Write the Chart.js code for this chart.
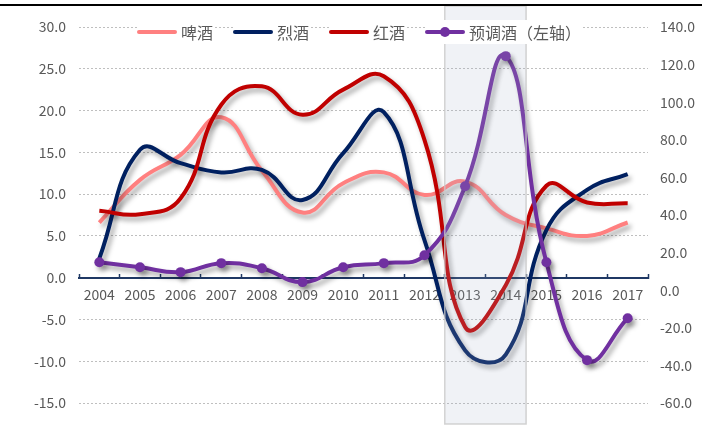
<!DOCTYPE html>
<html>
<head>
<meta charset="utf-8">
<script src="https://cdn.jsdelivr.net/npm/chart.js@4/dist/chart.umd.min.js"></script>
<style>
    body { margin: 0; background: #fff; }
    #wrap { position: relative; width: 702px; height: 434px; }
    #topline { position: absolute; left: 0; top: 4px; width: 702px; height: 2px; background: #000; }
    #legend { position: absolute; left: 137px; top: 20px; display: flex; align-items: center;
              font-family: "Noto Sans CJK SC", sans-serif; font-size: 16px; color: #595959; }
    .item { display: flex; align-items: center; margin-right: 20px; background: #fff; }
    .swatch { position: relative; width: 40px; height: 4px; border-radius: 2px; margin-right: 4px; }
    .dot { position: absolute; left: 15px; top: -3px; width: 10px; height: 10px; border-radius: 50%; }
</style>
</head>
<body>
<div id="wrap">
    <canvas id="chart"></canvas>
    <div id="topline"></div>
    <div id="legend"></div>
</div>
<script>
// categories
const years = ['2004', '2005', '2006', '2007', '2008', '2009', '2010', '2011', '2012', '2013', '2014', '2015', '2016', '2017'];

// series values (%), 预调酒 read against the right-hand scale
const beer    = [6.6, 11.7, 14.7, 19.2, 12.8, 7.8, 11.3, 12.6, 9.9, 11.5, 7.5, 5.9, 5.0, 6.6];
const spirits = [2.3, 15.3, 13.7, 12.6, 12.9, 9.3, 14.9, 19.8, 4.5, -8.7, -9.2, 5.7, 10.5, 12.4];
const wine    = [8.0, 7.6, 9.5, 20.7, 22.9, 19.5, 22.5, 24.1, 16.5, -5.9, -0.9, 11.0, 9.0, 8.9];
const rtd     = [14.9, 12.2, 9.6, 14.4, 11.7, 4.3, 12.2, 14.4, 18.6, 55.3, 124.5, 14.9, -37.2, -14.9];

const seriesNames = ['啤酒', '烈酒', '红酒', '预调酒（左轴）'];
const seriesColors = ['#FF8080', '#002060', '#C00000', '#7030A0'];

// highlighted years
const highlightFrom = '2013';
const highlightTo = '2014';

const FONT = '"Noto Sans CJK SC", sans-serif';
const GREY = '#595959';

// legend (html)
const legend = document.getElementById('legend');
seriesNames.forEach((name, i) => {
    const item = document.createElement('div');
    item.className = 'item';
    const sw = document.createElement('span');
    sw.className = 'swatch';
    sw.style.background = seriesColors[i];
    if (i === 3) {
        const dot = document.createElement('span');
        dot.className = 'dot';
        dot.style.background = seriesColors[i];
        sw.appendChild(dot);
    }
    const lab = document.createElement('span');
    lab.textContent = name;
    item.appendChild(sw);
    item.appendChild(lab);
    legend.appendChild(item);
});

// drop shadow under the lines
const shadowPlugin = {
    id: 'shadow',
    beforeDatasetDraw(chart) {
        const ctx = chart.ctx;
        ctx.save();
        ctx.shadowColor = 'rgba(0,0,0,0.35)';
        ctx.shadowBlur = 5;
        ctx.shadowOffsetX = 3;
        ctx.shadowOffsetY = 4;
    },
    afterDatasetDraw(chart) {
        chart.ctx.restore();
    }
};

// translucent box over 2013-2014
const highlightPlugin = {
    id: 'highlight',
    afterDatasetsDraw(chart) {
        const x = chart.scales.x;
        const a = years.indexOf(highlightFrom);
        const b = years.indexOf(highlightTo);
        const half = (x.getPixelForValue(1) - x.getPixelForValue(0)) / 2;
        const left = x.getPixelForValue(a) - half;
        const right = x.getPixelForValue(b) + half;
        const ctx = chart.ctx;
        ctx.save();
        ctx.fillStyle = 'rgba(165,175,200,0.17)';
        ctx.fillRect(left, 6, right - left, 418);
        ctx.strokeStyle = 'rgba(200,200,200,0.8)';
        ctx.lineWidth = 1.5;
        ctx.strokeRect(left, 6, right - left, 418);
        ctx.restore();
    }
};

function lineSet(i, data, axis, order) {
    return {
        label: seriesNames[i],
        data: data,
        yAxisID: axis,
        borderColor: seriesColors[i],
        backgroundColor: seriesColors[i],
        borderWidth: 4,
        tension: 0.45,
        pointRadius: i === 3 ? 5 : 0,
        pointBorderWidth: 0,
        fill: false,
        order: order
    };
}

new Chart(document.getElementById('chart'), {
    type: 'line',
    data: {
        labels: years,
        datasets: [
            lineSet(0, beer, 'y', 3),
            lineSet(1, spirits, 'y', 2),
            lineSet(2, wine, 'y', 1),
            lineSet(3, rtd, 'y2', 0)
        ]
    },
    options: {
        responsive: true,
        maintainAspectRatio: false,
        animation: false,
        layout: { padding: { left: 0, right: 0, top: 27, bottom: 31 } },
        plugins: {
            legend: { display: false },
            tooltip: { enabled: false }
        },
        scales: {
            x: {
                type: 'category',
                position: { y: 0 },
                offset: true,
                grid: {
                    display: true,
                    drawOnChartArea: false,
                    drawTicks: true,
                    tickLength: -5,
                    tickWidth: 1.5,
                    tickColor: '#1F3864',
                    offset: true
                },
                border: { display: true, color: '#1F3864', width: 2 },
                ticks: {
                    color: GREY,
                    font: { family: FONT, size: 14 },
                    padding: 14,
                    autoSkip: false,
                    maxRotation: 0
                }
            },
            y: {
                position: 'left',
                min: -15,
                max: 30,
                afterFit: s => { s.width = 79; },
                grid: { color: '#BFBFBF', lineWidth: 1, drawTicks: false },
                border: { display: false, dash: [2, 2] },
                ticks: {
                    stepSize: 5,
                    padding: 13,
                    color: GREY,
                    font: { family: FONT, size: 14 },
                    callback: v => v.toFixed(1)
                }
            },
            y2: {
                position: 'right',
                min: -60,
                max: 140,
                afterFit: s => { s.width = 54; },
                grid: { display: false, drawTicks: false },
                border: { display: false },
                ticks: {
                    stepSize: 20,
                    padding: 12,
                    color: GREY,
                    font: { family: FONT, size: 14 },
                    callback: v => v.toFixed(1)
                }
            }
        }
    },
    plugins: [shadowPlugin, highlightPlugin]
});
</script>
</body>
</html>
